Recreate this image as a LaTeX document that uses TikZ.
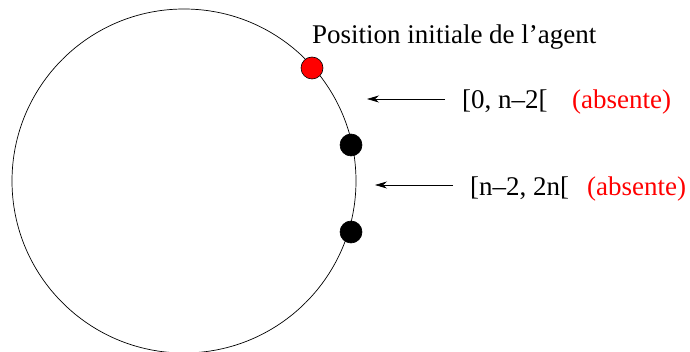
\documentclass[tikz,border=0pt]{standalone}
\usepackage{fontspec}
\setmainfont{Liberation Serif}
\usetikzlibrary{arrows.meta, positioning}

\tikzset{
  agentdot/.style={circle, draw=black, line width=0.6pt, minimum size=22pt, inner sep=0pt},
  lbl/.style={anchor=base west, inner sep=0pt, font=\fontsize{27}{30}\selectfont},
  arr/.style={-{Stealth[length=12pt, width=7pt]}, line width=0.7pt}
}

\begin{document}
\begin{tikzpicture}[x=1pt, y=-1pt]
  \useasboundingbox (0,0) rectangle (690,352);

  % Anneau
  \coordinate (centre) at (184,181);
  \draw[line width=0.7pt] (centre) circle[radius=172pt];

  % Agents
  \node[agentdot, fill=red] (depart) at (312,68) {};
  \node[agentdot, fill=black] (agentA) at (351,145) {};
  \node[agentdot, fill=black] (agentB) at (351,232) {};

  % Textes
  \node[lbl] (titre) at (312,44) {Position initiale de l’agent};
  \node[lbl] (zoneA) at (462,109) {[0, n–2[};
  \node[lbl, text=red] (absA) at (572,109) {(absente)};
  \node[lbl] (zoneB) at (470,196) {[n–2, 2n[};
  \node[lbl, text=red] (absB) at (587,196) {(absente)};

  % Fleches
  \coordinate (queueA) at (445,99);
  \coordinate (pointeA) at (367,99);
  \coordinate (queueB) at (453,185);
  \coordinate (pointeB) at (375,185);
  \draw[arr] (queueA) -- (pointeA);
  \draw[arr] (queueB) -- (pointeB);
\end{tikzpicture}
\end{document}
